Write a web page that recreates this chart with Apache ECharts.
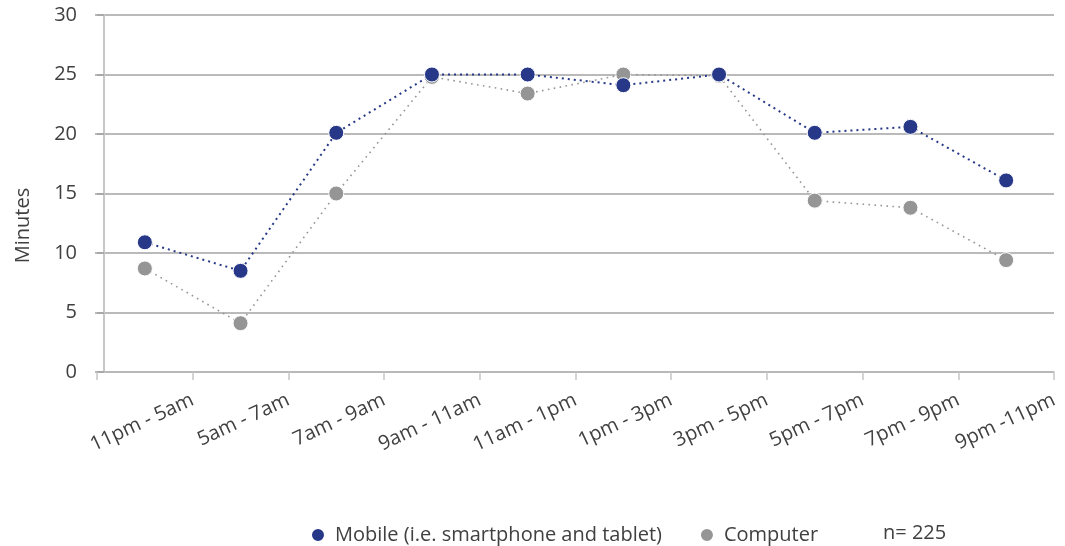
<!DOCTYPE html>
<html>
<head>
<meta charset="utf-8">
<style>
  html, body { margin: 0; padding: 0; background: #ffffff; }
  #chart { width: 1065px; height: 546px; }
</style>
<script src="https://cdn.jsdelivr.net/npm/echarts@6/dist/echarts.min.js"></script>
</head>
<body>
<div id="chart"></div>
<script>
// Time-of-day slots
const timeSlots = ['11pm - 5am', '5am - 7am', '7am - 9am', '9am - 11am', '11am - 1pm',
                   '1pm - 3pm', '3pm - 5pm', '5pm - 7pm', '7pm - 9pm', '9pm -11pm'];
// Average minutes per slot
const mobileMinutes   = [10.9, 8.5, 20.1, 25.0, 25.0, 24.1, 25.0, 20.1, 20.6, 16.1];
const computerMinutes = [8.7, 4.1, 15.0, 24.8, 23.4, 25.0, 24.9, 14.4, 13.8, 9.4];
const yTicks = [0, 5, 10, 15, 20, 25, 30];
const sampleNote = 'n= 225';

const FONT = '"Open Sans", "Noto Sans", sans-serif';
const TEXT = '#404040';
const GRID_LINE = '#a3a3a3';
const AXIS_LIGHT = '#c6c6c6';

const chart = echarts.init(document.getElementById('chart'));
chart.setOption({
  animation: false,
  backgroundColor: '#ffffff',
  textStyle: { fontFamily: FONT },
  grid: { left: 97, right: 11, top: 15, bottom: 174 },
  title: {
    text: sampleNote,
    left: 878, top: 518,
    textStyle: { fontFamily: FONT, fontWeight: 'normal', fontSize: 20, color: TEXT }
  },
  legend: {
    data: ['Mobile (i.e. smartphone and tablet)', 'Computer'],
    left: 305, top: 520,
    icon: 'circle', itemWidth: 14, itemHeight: 14, itemGap: 37,
    textStyle: { fontFamily: FONT, fontSize: 20, color: TEXT, padding: [0, 0, 0, 5] }
  },
  xAxis: [{
    type: 'category',
    data: timeSlots,
    boundaryGap: true,
    axisLine: { show: true, lineStyle: { color: '#b8b8b8', width: 1.5 } },
    axisTick: { show: true, length: 8, lineStyle: { color: AXIS_LIGHT, width: 1.5 } },
    axisLabel: { show: false },
    splitLine: { show: false }
  }, {
    // label-only axis: slot names sit at the right-hand boundary of each slot
    type: 'value',
    position: 'bottom',
    min: 0, max: timeSlots.length, interval: 1,
    axisLine: { show: false },
    axisTick: { show: false },
    splitLine: { show: false },
    axisLabel: {
      show: true,
      rotate: 25,
      margin: 27,
      fontFamily: FONT, fontSize: 20, color: TEXT,
      showMinLabel: false,
      formatter: v => (v >= 1 ? timeSlots[v - 1] : '')
    }
  }],
  yAxis: {
    type: 'value',
    min: yTicks[0], max: yTicks[yTicks.length - 1], interval: 5,
    offset: -7,
    name: 'Minutes',
    nameLocation: 'middle',
    nameGap: 71,
    nameRotate: 90,
    nameTextStyle: { fontFamily: FONT, fontSize: 20, color: TEXT, padding: [0, 64, 0, 0] },
    axisLine: { show: true, lineStyle: { color: AXIS_LIGHT, width: 2 } },
    axisTick: { show: true, length: 9, lineStyle: { color: GRID_LINE, width: 1.5 } },
    axisLabel: { margin: 27, fontFamily: FONT, fontSize: 20, color: TEXT },
    splitLine: { show: true, lineStyle: { color: GRID_LINE, width: 1.5 } }
  },
  series: [{
    name: 'Mobile (i.e. smartphone and tablet)',
    type: 'line',
    z: 3,
    data: mobileMinutes,
    symbol: 'circle', symbolSize: 15,
    itemStyle: { color: '#263887', borderColor: '#ffffff', borderWidth: 1 },
    lineStyle: { color: '#263887', width: 2, type: [2, 4] }
  }, {
    name: 'Computer',
    type: 'line',
    z: 2,
    data: computerMinutes,
    symbol: 'circle', symbolSize: 15,
    itemStyle: { color: '#959595', borderColor: '#ffffff', borderWidth: 1 },
    lineStyle: { color: '#959595', width: 1.6, type: [1.6, 4.4] }
  }]
});
</script>
</body>
</html>
